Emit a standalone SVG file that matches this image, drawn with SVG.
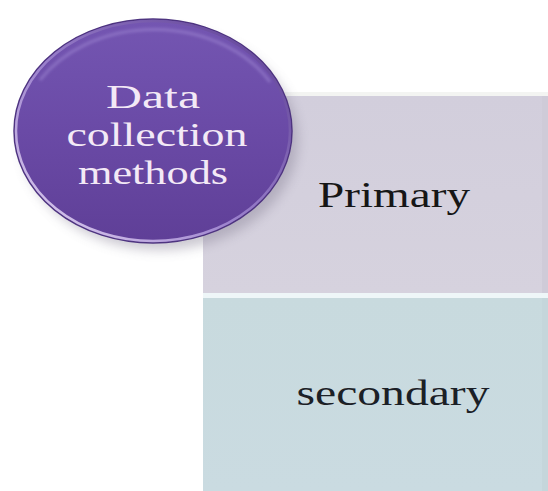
<svg xmlns="http://www.w3.org/2000/svg" width="548" height="491" viewBox="0 0 548 491">
  <defs>
    <style>
      .lbl { font-family: "Liberation Serif", "DejaVu Serif", serif; font-size: 36px; text-anchor: middle; }
      .inner { fill: #f3e9f6; font-size: 34px; }
      .dark { fill: #161616; }
    </style>
    <linearGradient id="purpleFill" x1="0" y1="0" x2="0" y2="1">
      <stop offset="0" stop-color="#7456b2"/>
      <stop offset="0.5" stop-color="#6a4aa6"/>
      <stop offset="1" stop-color="#5f3f97"/>
    </linearGradient>
    <linearGradient id="rim" x1="0" y1="1" x2="1" y2="0">
      <stop offset="0" stop-color="#e6d8f4"/>
      <stop offset="0.45" stop-color="#9a80cc"/>
      <stop offset="1" stop-color="#5a3c90"/>
    </linearGradient>
    <linearGradient id="primFill" x1="0" y1="0" x2="0" y2="1">
      <stop offset="0" stop-color="#d2cedc"/>
      <stop offset="1" stop-color="#d6d2de"/>
    </linearGradient>
    <linearGradient id="secFill" x1="0" y1="0" x2="0" y2="1">
      <stop offset="0" stop-color="#c8dade"/>
      <stop offset="1" stop-color="#cadbe1"/>
    </linearGradient>
    <filter id="blur" x="-20%" y="-20%" width="140%" height="140%">
      <feGaussianBlur stdDeviation="6"/>
    </filter>
    <filter id="soft" x="-10%" y="-10%" width="120%" height="120%">
      <feGaussianBlur stdDeviation="1.5"/>
    </filter>
  </defs>

  <rect width="548" height="491" fill="#ffffff"/>

  <g id="node-primary">
    <rect x="203" y="92" width="345" height="4" fill="#f3f4f2"/>
    <rect x="203" y="96" width="345" height="197" fill="url(#primFill)"/>
    <rect x="542" y="96" width="6" height="197" fill="#cfcbd8"/>
    <text class="lbl dark" x="394" y="207" textLength="152" lengthAdjust="spacingAndGlyphs">Primary</text>
  </g>

  <g id="node-secondary">
    <rect x="203" y="293" width="345" height="5" fill="#eef6f8"/>
    <rect x="203" y="298" width="345" height="193" fill="url(#secFill)"/>
    <rect x="542" y="298" width="6" height="193" fill="#c5d6db"/>
    <text class="lbl" fill="#1b2026" x="393" y="405" textLength="193" lengthAdjust="spacingAndGlyphs">secondary</text>
  </g>

  <g id="node-circle">
    <ellipse cx="160" cy="140" rx="138" ry="110" fill="#8a8498" opacity="0.45" filter="url(#blur)"/>
    <ellipse cx="153" cy="131" rx="139" ry="112" fill="url(#purpleFill)" stroke="#4e3480" stroke-width="1.5"/>
    <path d="M 40 80 A 134 106 0 0 1 270 82" fill="none" stroke="#9c84d0" stroke-width="3" opacity="0.6" filter="url(#soft)"/>
    <ellipse cx="153" cy="131" rx="137" ry="110" fill="none" stroke="url(#rim)" stroke-width="2.5"/>
    <text class="lbl inner" x="153" y="108" textLength="94" lengthAdjust="spacingAndGlyphs">Data</text>
    <text class="lbl inner" x="157" y="146" textLength="181" lengthAdjust="spacingAndGlyphs">collection</text>
    <text class="lbl inner" x="153" y="184" textLength="150" lengthAdjust="spacingAndGlyphs">methods</text>
  </g>

  <g id="connectors"/>
</svg>
